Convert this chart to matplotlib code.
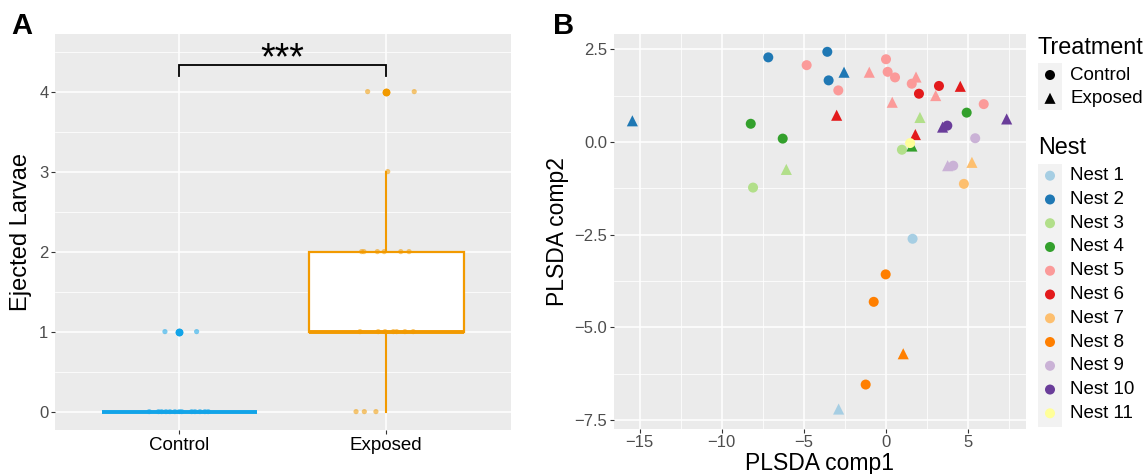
import matplotlib
matplotlib.use("Agg")
import matplotlib.pyplot as plt
from matplotlib.patches import Rectangle
import numpy as np

plt.rcParams['font.family'] = ['Liberation Sans', 'DejaVu Sans']

# ---------------- Panel A data ----------------
categories = ['Control', 'Exposed']
control_values = [0]*13 + [1]*2
control_jitter = [-0.145, -0.10, -0.085, -0.064, -0.045, -0.021, 0.0, 0.012, 0.06, 0.076, 0.10, 0.124, 0.14,
                  -0.069, 0.084]
exposed_values = [0]*3 + [1]*7 + [2]*6 + [3] + [4]*2
exposed_jitter = [-0.146, -0.106, -0.05,
                  -0.127, -0.039, -0.006, 0.034, 0.05, 0.09, 0.13,
                  -0.119, -0.108, -0.043, -0.01, 0.07, 0.11,
                  0.007,
                  -0.09, 0.135]
group_colors = ['#12A4E8', '#F29A00']
signif_label = '***'

# ---------------- Panel B data ----------------
pls_comp1 = [1.64, -2.87,
             -15.45, -7.16, -3.56, -3.48, -2.54,
             2.09, -6.06, -8.09, 0.99,
             -8.23, -6.28, 4.94, 1.60,
             -4.82, -2.89, -1.00, 0.02, 0.12, 0.57, 0.40, 1.59, 1.85, 3.05, 5.98,
             2.03, 3.25, 4.55, -2.99, 1.81,
             5.26, 4.77,
             0.00, -0.73, 1.07, -1.22,
             5.46, 3.78, 4.12,
             3.47, 3.76, 7.38,
             1.49]
pls_comp2 = [-2.61, -7.20,
             0.57, 2.28, 2.43, 1.66, 1.88,
             0.66, -0.74, -1.23, -0.21,
             0.49, 0.09, 0.79, -0.11,
             2.07, 1.39, 1.88, 2.23, 1.89, 1.74, 1.07, 1.57, 1.75, 1.25, 1.02,
             1.30, 1.51, 1.50, 0.72, 0.20,
             -0.55, -1.13,
             -3.57, -4.31, -5.71, -6.54,
             0.10, -0.64, -0.64,
             0.40, 0.44, 0.62,
             -0.03]
nest_id = [1, 1,
           2, 2, 2, 2, 2,
           3, 3, 3, 3,
           4, 4, 4, 4,
           5, 5, 5, 5, 5, 5, 5, 5, 5, 5, 5,
           6, 6, 6, 6, 6,
           7, 7,
           8, 8, 8, 8,
           9, 9, 9,
           10, 10, 10,
           11]
treatment = ['C', 'E',
             'E', 'C', 'C', 'C', 'E',
             'E', 'E', 'C', 'C',
             'C', 'C', 'C', 'E',
             'C', 'C', 'E', 'C', 'C', 'C', 'E', 'C', 'E', 'E', 'C',
             'C', 'C', 'E', 'E', 'E',
             'E', 'C',
             'C', 'C', 'E', 'C',
             'C', 'E', 'C',
             'E', 'C', 'E',
             'C']
nest_labels = ['Nest %d' % i for i in range(1, 12)]
nest_colors = ['#A6CEE3', '#1F78B4', '#B2DF8A', '#33A02C', '#FB9A99', '#E31A1C',
               '#FDBF6F', '#FF7F00', '#CAB2D6', '#6A3D9A', '#FFFF99']
treatment_labels = ['Control', 'Exposed']
treatment_markers = {'C': 'o', 'E': '^'}

W, H = 1148, 474
fig = plt.figure(figsize=(W/100, H/100), dpi=100)

def fx(px):
    return px / W

def fy(py):
    return 1 - py / H

PANEL_BG = '#EBEBEB'
TICK_COL = '#4D4D4D'

def style_axes(ax):
    ax.set_facecolor(PANEL_BG)
    for s in ax.spines.values():
        s.set_visible(False)
    ax.set_axisbelow(True)
    ax.grid(which='major', color='white', lw=1.1)
    ax.grid(which='minor', color='white', lw=0.55)
    ax.tick_params(which='major', length=2.75, width=0.8, color='#333333', labelcolor=TICK_COL, pad=2)
    ax.tick_params(which='minor', length=0)

# ---------------- Panel A ----------------
axA = fig.add_axes([fx(55), fy(430), fx(510.5) - fx(55), fy(34) - fy(430)])
style_axes(axA)
axA.set_xlim(0.4, 2.6)
axA.set_ylim(-0.23, 4.72)
axA.set_yticks([0, 1, 2, 3, 4])
axA.set_yticks([0.5, 1.5, 2.5, 3.5, 4.5], minor=True)
axA.set_xticks([1, 2])
axA.set_xticklabels(categories, fontsize=13.5, color='black')
axA.tick_params(axis='y', labelsize=12)
axA.tick_params(axis='x', labelcolor='black')

bp = axA.boxplot([control_values, exposed_values], positions=[1, 2], widths=0.75,
                 whis=1.5, patch_artist=True, showcaps=False, manage_ticks=False)
for i, c in enumerate(group_colors):
    bp['boxes'][i].set(facecolor='white', edgecolor=c, linewidth=1.6, zorder=2)
    bp['medians'][i].set(color=c, linewidth=2.8, zorder=3, solid_capstyle='butt')
    for w in bp['whiskers'][2*i:2*i+2]:
        w.set(color=c, linewidth=1.5, zorder=1.5)
    bp['fliers'][i].set(marker='o', markerfacecolor=c, markeredgecolor=c, markersize=4.5, zorder=4)

for pos, vals, jit, c in [(1, control_values, control_jitter, group_colors[0]),
                          (2, exposed_values, exposed_jitter, group_colors[1])]:
    axA.scatter(np.array(jit) + pos, vals, s=14, color=c, alpha=0.55, edgecolors='none', zorder=5)

# significance bracket
axA.plot([1, 1, 2, 2], [4.2, 4.33, 4.33, 4.2], color='black', lw=1.3, solid_joinstyle='miter')
axA.text(1.5, 4.28, signif_label, ha='center', va='baseline', fontsize=27, color='black')
axA.set_ylabel('Ejected Larvae', fontsize=17, labelpad=5)

# ---------------- Panel B ----------------
axB = fig.add_axes([fx(614), fy(428.7), fx(1025.7) - fx(614), fy(34) - fy(428.7)])
style_axes(axB)
axB.set_xlim(-16.57, 8.54)
axB.set_ylim(-7.73, 2.91)
axB.set_xticks([-15, -10, -5, 0, 5])
axB.set_xticklabels(['\u221215', '\u221210', '\u22125', '0', '5'])
axB.set_xticks([-12.5, -7.5, -2.5, 2.5, 7.5], minor=True)
axB.set_yticks([2.5, 0.0, -2.5, -5.0, -7.5])
axB.set_yticklabels(['2.5', '0.0', '\u22122.5', '\u22125.0', '\u22127.5'])
axB.set_yticks([1.25, -1.25, -3.75, -6.25], minor=True)
axB.tick_params(axis='both', labelsize=12)

for xv, yv, n, t in zip(pls_comp1, pls_comp2, nest_id, treatment):
    m = treatment_markers[t]
    axB.scatter([xv], [yv], s=52 if m == 'o' else 64, marker=m, color=nest_colors[n-1],
                edgecolors='none', zorder=3)

axB.set_xlabel('PLSDA comp1', fontsize=16.5, labelpad=1)
axB.set_ylabel('PLSDA comp2', fontsize=16.5, labelpad=4)

# ---------------- Legend (manual, pixel coordinates) ----------------
lax = fig.add_axes([0, 0, 1, 1], zorder=10)
lax.set_xlim(0, W)
lax.set_ylim(H, 0)
lax.axis('off')
lax.patch.set_alpha(0)

lax.text(1038, 47, 'Treatment', fontsize=16.8, va='center', ha='left')
lax.add_patch(Rectangle((1038, 63.3), 24, 46.7, facecolor='#F2F2F2', edgecolor='none'))
for k, (lab, key) in enumerate(zip(treatment_labels, ['C', 'E'])):
    yy = 75 + 23.3 * k
    lax.scatter([1050], [yy], s=52 if key == 'C' else 64, marker=treatment_markers[key],
                color='black', edgecolors='none')
    lax.text(1070, yy, lab, fontsize=13.5, va='center', ha='left')

lax.text(1038, 147, 'Nest', fontsize=16.8, va='center', ha='left')
lax.add_patch(Rectangle((1038, 163.5), 24, 263.5, facecolor='#F2F2F2', edgecolor='none'))
for k, (lab, col) in enumerate(zip(nest_labels, nest_colors)):
    yy = 175.7 + 23.76 * k
    lax.scatter([1050], [yy], s=52, marker='o', color=col, edgecolors='none')
    lax.text(1070, yy, lab, fontsize=13.5, va='center', ha='left')

# panel tags
fig.text(fx(11), fy(34), 'A', fontsize=21, fontweight='bold', ha='left', va='baseline')
fig.text(fx(553), fy(34), 'B', fontsize=21, fontweight='bold', ha='left', va='baseline')

fig.savefig('out.png', dpi=100)
